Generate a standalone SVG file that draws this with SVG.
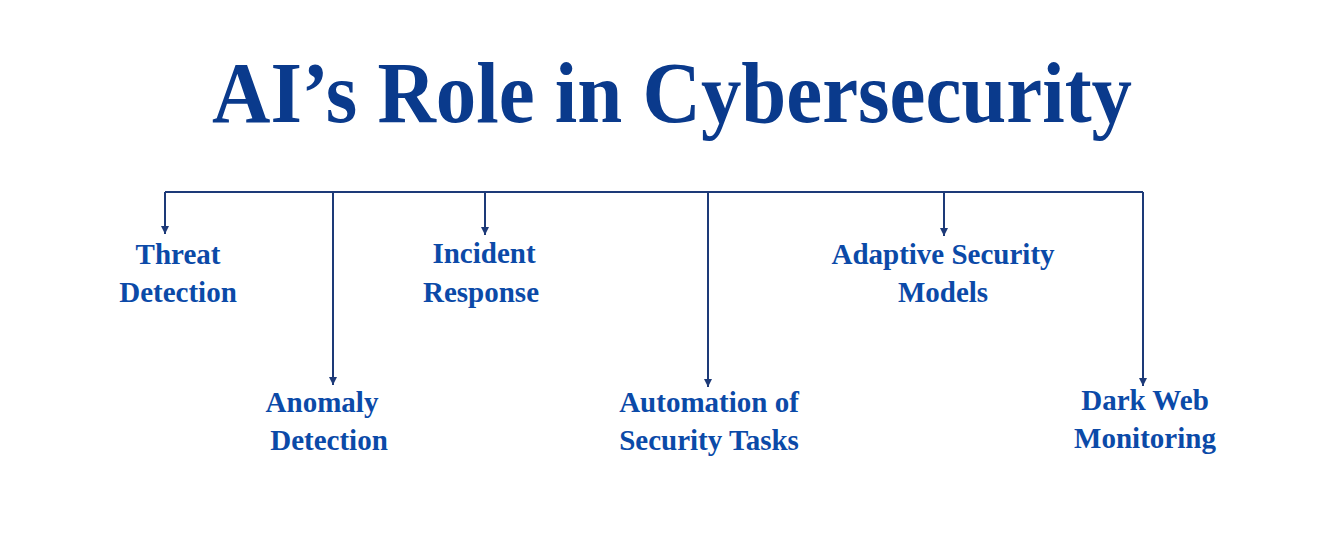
<svg xmlns="http://www.w3.org/2000/svg" width="1335" height="549" viewBox="0 0 1335 549">
<style>
.t{font-family:"Liberation Serif",serif;font-weight:bold;fill:#0a3a8c}
.l{font-family:"Liberation Serif",serif;font-weight:bold;font-size:29px;fill:#0b4aa8;text-anchor:middle}
.c{stroke:#1d3a78;stroke-width:2;fill:none}
</style>
<defs><marker id="a" markerWidth="8" markerHeight="8" refX="4" refY="6" orient="auto" markerUnits="userSpaceOnUse"><path d="M0,0 L8,0 L4,6 Z" fill="#1d3a78" transform="rotate(-90 4 4)"/></marker>
<marker id="m" viewBox="0 0 8 8" markerWidth="8" markerHeight="8" refX="8" refY="4" orient="auto" markerUnits="userSpaceOnUse"><path d="M0,0 L8,4 L0,8 Z" fill="#1d3a78"/></marker></defs>
<rect width="1335" height="549" fill="#fff"/>
<text id="title" class="t" x="672" y="122" font-size="86" text-anchor="middle" textLength="920" lengthAdjust="spacingAndGlyphs">AI’s Role in Cybersecurity</text>
<g id="connectors">
<path class="c" d="M165,192 H1143"/>
<path class="c" d="M165,192 V234" marker-end="url(#m)"/>
<path class="c" d="M333,192 V385" marker-end="url(#m)"/>
<path class="c" d="M485,192 V235" marker-end="url(#m)"/>
<path class="c" d="M708,192 V387" marker-end="url(#m)"/>
<path class="c" d="M944,192 V236" marker-end="url(#m)"/>
<path class="c" d="M1143,192 V386" marker-end="url(#m)"/>
</g>
<g id="n1"><text class="l" x="178" y="264">Threat</text><text class="l" x="178" y="302">Detection</text></g>
<g id="n2"><text class="l" x="322" y="412">Anomaly</text><text class="l" x="329" y="450">Detection</text></g>
<g id="n3"><text class="l" x="484" y="263">Incident</text><text class="l" x="481" y="302">Response</text></g>
<g id="n4"><text class="l" x="709" y="412">Automation of</text><text class="l" x="709" y="450">Security Tasks</text></g>
<g id="n5"><text class="l" x="943" y="264">Adaptive Security</text><text class="l" x="943" y="302">Models</text></g>
<g id="n6"><text class="l" x="1145" y="410">Dark Web</text><text class="l" x="1145" y="448">Monitoring</text></g>
</svg>
